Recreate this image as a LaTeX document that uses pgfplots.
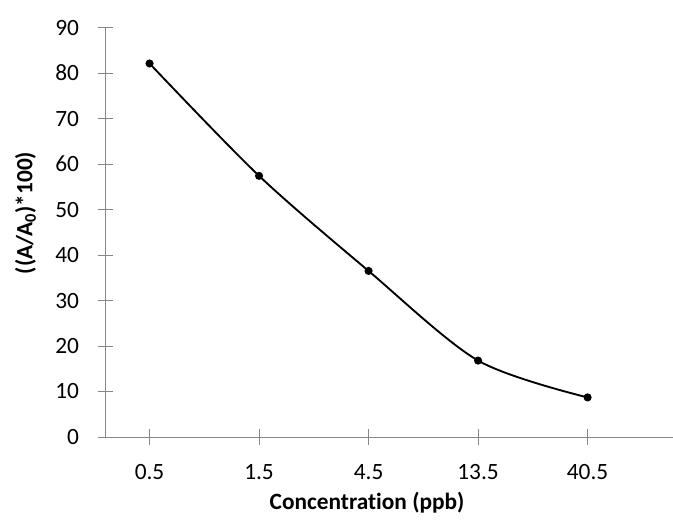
\documentclass[border=0pt]{standalone}
\usepackage{fontspec}
\setmainfont{Carlito}[Ligatures={NoCommon}]
\usepackage{pgfplots}
\pgfplotsset{compat=1.18}
\definecolor{axisgray}{RGB}{134,134,134}
\begin{document}
\begin{tikzpicture}
\path[use as bounding box] (-78.975pt,-67.5pt) rectangle (425.775pt,327.75pt);
\begin{axis}[
  at={(0,0)}, anchor=south west,
  scale only axis, width=425.775pt, height=307.1pt,
  xmin=-0.404, xmax=4.78, ymin=0, ymax=90,
  axis lines*=left,
  axis line style={draw=axisgray, line width=0.75pt},
  xtick={0,1,2,3,4}, xticklabels={0.5,1.5,4.5,13.5,40.5},
  ytick={0,10,...,90},
  tick align=center, major tick length=11.5pt,
  tick style={draw=axisgray, line width=0.75pt},
  /pgf/number format/assume math mode=true,
  ticklabel style={font=\fontsize{17.5}{20}\selectfont},
  yticklabel style={xshift=-10.5pt},
  xticklabel style={yshift=-11pt},
  xlabel={Concentration (ppb)},
  ylabel={((A/A\textsubscript{0})*100)},
  label style={font=\fontsize{17.5}{20}\selectfont\bfseries},
  xlabel style={at={([yshift=-49.5pt]axis description cs:0.461,0)}, anchor=center},
  ylabel style={at={([xshift=-59.8pt]axis description cs:0,0.547)}, anchor=center},
  clip=false,
]
\addplot[black, line width=1.4pt, smooth, mark=*, mark size=2.3pt, mark options={solid, fill=black}]
  coordinates {(0,82.1) (1,57.4) (2,36.5) (3,16.8) (4,8.7)};
\end{axis}
\end{tikzpicture}
\end{document}
